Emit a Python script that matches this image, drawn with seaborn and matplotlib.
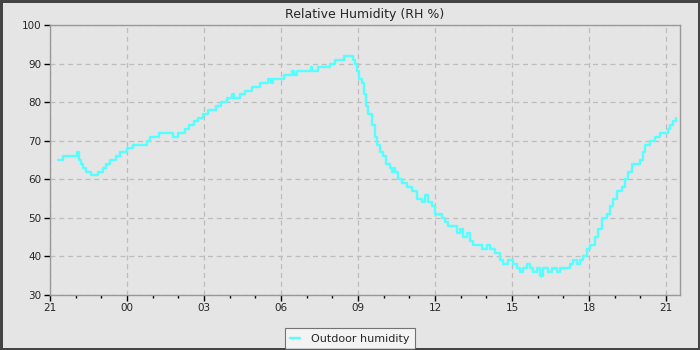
import numpy as np
import pandas as pd
import matplotlib
matplotlib.use("Agg")
import matplotlib.pyplot as plt
import seaborn as sns

# ─── Data: hours since 21:00 and outdoor RH readings ──────────────────────────
hours = [0.31, 0.51, 1.05, 1.13, 1.21, 1.29, 1.40, 1.60, 1.87, 2.06, 2.18, 2.34,
         2.57, 2.73, 3.00, 3.23, 3.78, 3.90, 4.25, 4.79, 4.99, 5.26, 5.41, 5.61,
         5.77, 5.96, 6.16, 6.47, 6.66, 6.90, 7.09, 7.17, 7.40, 7.60, 7.87, 8.18,
         8.49, 8.61, 8.69, 9.12, 9.43, 9.51, 9.62, 10.17, 10.21, 10.44, 10.91,
         11.10, 11.45, 11.80, 11.88, 11.96, 12.04, 12.15, 12.23, 12.31, 12.39,
         12.54, 12.66, 12.74, 12.86, 12.97, 13.09, 13.25, 13.32, 13.36, 13.44,
         13.56, 13.71, 13.91, 14.10, 14.30, 14.49, 14.61, 14.73, 14.88, 15.00,
         15.27, 15.39, 15.50, 15.86, 15.97, 16.09, 16.25, 16.36, 16.48, 16.83,
         17.02, 17.14, 17.34, 17.53, 17.65, 17.84, 18.04, 18.19, 18.31, 18.43,
         18.58, 18.70, 18.82, 18.97, 19.09, 19.21, 19.40, 19.56, 19.75, 19.87,
         20.26, 20.37, 20.53, 20.65, 20.76, 20.92, 21.04, 21.23, 21.35, 21.50,
         21.70, 21.82, 21.93, 22.09, 22.28, 22.40, 22.52, 22.68, 22.98, 23.10,
         23.18, 23.37, 23.57, 23.76, 24.07, 24.15, 24.27, 24.39]
rh = [65, 66, 67, 65, 64, 63, 62, 61, 62, 63, 64, 65,
      66, 67, 68, 69, 70, 71, 72, 71, 72, 73, 74, 75,
      76, 77, 78, 79, 80, 81, 82, 81, 82, 83, 84, 85,
      86, 85, 86, 87, 88, 87, 88, 89, 88, 89, 90,
      91, 92, 91, 90, 88, 86, 85, 82, 79, 77,
      74, 71, 69, 67, 66, 64, 63, 62, 63, 62,
      60, 59, 58, 57, 55, 54, 56, 54, 53, 51,
      50, 49, 48, 46, 47, 45, 46, 44, 43, 42,
      43, 42, 41, 39, 38, 39, 38, 37, 36, 37,
      38, 37, 36, 37, 35, 37, 36, 37, 36, 37,
      38, 39, 38, 39, 40, 42, 43, 45, 47, 50,
      51, 53, 55, 57, 58, 60, 62, 64, 65, 67,
      69, 70, 71, 72, 73, 74, 75, 76]
tick_labels = ["21", "00", "03", "06", "09", "12", "15", "18", "21"]
y_ticks = [30, 40, 50, 60, 70, 80, 90, 100]

df = pd.DataFrame({"hour": hours, "rh": rh, "series": "Outdoor humidity"})

# ─── Style ────────────────────────────────────────────────────────────────────
BG = "#e5e5e5"
LINE = "#55ffff"
sns.set_theme(style="ticks")
plt.rcParams["font.family"] = ["DejaVu Sans"]

fig = plt.figure(figsize=(7, 3.5), dpi=100, facecolor=BG,
                 edgecolor="#444444", linewidth=2.5)
ax = fig.add_axes([50 / 700, 55 / 350, 630 / 700, 270 / 350])
ax.set_facecolor(BG)

sns.lineplot(data=df, x="hour", y="rh", hue="series", palette=[LINE],
             drawstyle="steps-post", linewidth=1.7, ax=ax, legend=False)

ax.set_xlim(0, 24.54)
ax.set_ylim(30, 100)
ax.set_xticks(np.arange(0, 25, 3))
ax.set_xticklabels(tick_labels)
ax.set_xticks(np.arange(0, 25, 1), minor=True)
ax.set_yticks(y_ticks)
ax.set_xlabel("")
ax.set_ylabel("")
ax.tick_params(axis="both", which="major", direction="out", length=4,
               width=1, color="black", labelsize=7.5, pad=2)
ax.tick_params(axis="x", which="minor", direction="out", length=2.5,
               width=1, color="black")
ax.grid(True, which="major", linestyle=(0, (4, 3)), color="#bdbdbd",
        linewidth=0.9)
for s in ax.spines.values():
    s.set_color("#999999")
    s.set_linewidth(1)

ax.set_title("Relative Humidity (RH %)", fontsize=9, pad=5)

# legend sits at the bottom edge of the figure
handle = plt.Line2D([], [], color=LINE, linewidth=1.7)
leg = fig.legend([handle], ["Outdoor humidity"], loc="lower center",
                 bbox_to_anchor=(0.5, -0.004), fontsize=8, frameon=True,
                 fancybox=False, handlelength=0.9, borderpad=0.5,
                 handletextpad=1.0, borderaxespad=0.2)
leg.get_frame().set_facecolor("#f7f7f7")
leg.get_frame().set_edgecolor("#555555")
leg.get_frame().set_linewidth(0.8)

plt.savefig("out.png", dpi=100, facecolor=BG, edgecolor="#444444")
plt.close()
